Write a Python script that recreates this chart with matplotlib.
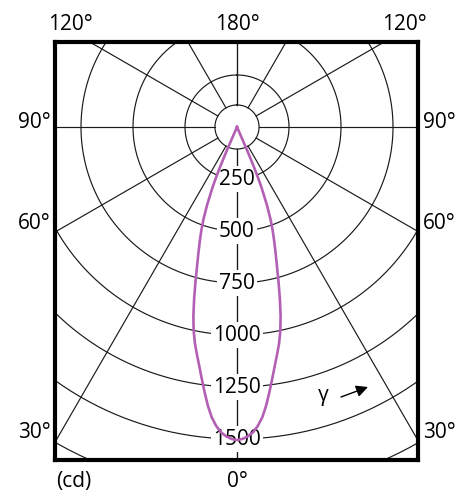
import matplotlib.pyplot as plt
import numpy as np

plt.rcParams['font.family'] = ['Open Sans', 'DejaVu Sans']

# luminous intensity distribution (cd), symmetric around 0 deg
gamma_deg = [0, 1, 2, 3, 4, 5, 6, 7, 8, 9, 10, 11, 12, 13, 14, 15, 16, 17, 18,
             19, 20, 21, 22, 22.5, 23, 23.5, 24]
intensity = [1505, 1500, 1488, 1470, 1440, 1400, 1345, 1282, 1220, 1162, 1110,
             1060, 1002, 932, 852, 772, 697, 635, 580, 528, 470, 400, 318, 268,
             205, 120, 0]

ring_values = [250, 500, 750, 1000, 1250, 1500, 1750]
ring_labels = ["250", "500", "750", "1000", "1250", "1500"]
hub_radius = 106
spoke_angles = [0, 30, 60, 90, 120, 150, 180]

# pixel -> cd scale (250 cd = 52 px)
S = 250 / 52.0
def px(x, y):
    return ((x - 237) * S, (127 - y) * S)

fig = plt.figure(figsize=(4.65, 5.0), dpi=100)
ax = fig.add_axes([55 / 465, 40 / 500, 363 / 465, 418 / 500])
x0, y1 = px(55, 42)
x1, y0 = px(418, 460)
ax.set_xlim(x0, x1)
ax.set_ylim(y0, y1)
ax.set_xticks([])
ax.set_yticks([])
for sp in ax.spines.values():
    sp.set_linewidth(3.0)
    sp.set_color('black')
    sp.set_zorder(10)

grid_kw = dict(color='#1a1a1a', lw=0.85, zorder=1)
t = np.linspace(0, 2 * np.pi, 400)
for r in [hub_radius] + ring_values:
    ax.plot(r * np.sin(t), r * np.cos(t), **grid_kw)

for a in spoke_angles:
    g = np.radians(a)
    for side in (-1, 1):
        ax.plot([side * hub_radius * np.sin(g), side * 3000 * np.sin(g)],
                [-hub_radius * np.cos(g), -3000 * np.cos(g)], **grid_kw)

for v, lab in zip(ring_values, ring_labels):
    ax.text(0, -v, lab, ha='center', va='center', fontsize=15, zorder=5,
            bbox=dict(boxstyle='square,pad=0.1', fc='white', ec='none'))

# intensity curve (drawn over the ring labels)
g = np.radians(gamma_deg)
I = np.array(intensity, dtype=float)
xs = np.concatenate([-(I * np.sin(g))[::-1], (I * np.sin(g))[1:]])
ys = np.concatenate([-(I * np.cos(g))[::-1], -(I * np.cos(g))[1:]])
ax.plot(xs, ys, color='#B35FB3', lw=1.9, zorder=6, solid_joinstyle='round')

# angle labels around the frame
fs = 15
lbl = [
    ("120°", 70, 24, 'center'), ("180°", 237, 24, 'center'), ("120°", 404, 24, 'center'),
    ("90°", 51, 122, 'right'), ("60°", 51, 223, 'right'), ("30°", 51, 432, 'right'),
    ("90°", 423, 122, 'left'), ("60°", 423, 223, 'left'), ("30°", 423, 432, 'left'),
    ("0°", 237, 481, 'center'), ("(cd)", 56, 481, 'left'),
]
for s, xp, yp, ha in lbl:
    x, y = px(xp, yp)
    ax.text(x, y, s, ha=ha, va='center', fontsize=fs, clip_on=False)

x, y = px(323, 395)
ax.text(x, y, "γ", ha='center', va='center', fontsize=fs)
ax.annotate('', xy=px(368, 387), xytext=px(341, 397),
            arrowprops=dict(arrowstyle='-|>,head_length=0.7,head_width=0.35',
                            color='black', lw=1.0, shrinkA=0, shrinkB=0))

plt.savefig("out.png", dpi=100)
